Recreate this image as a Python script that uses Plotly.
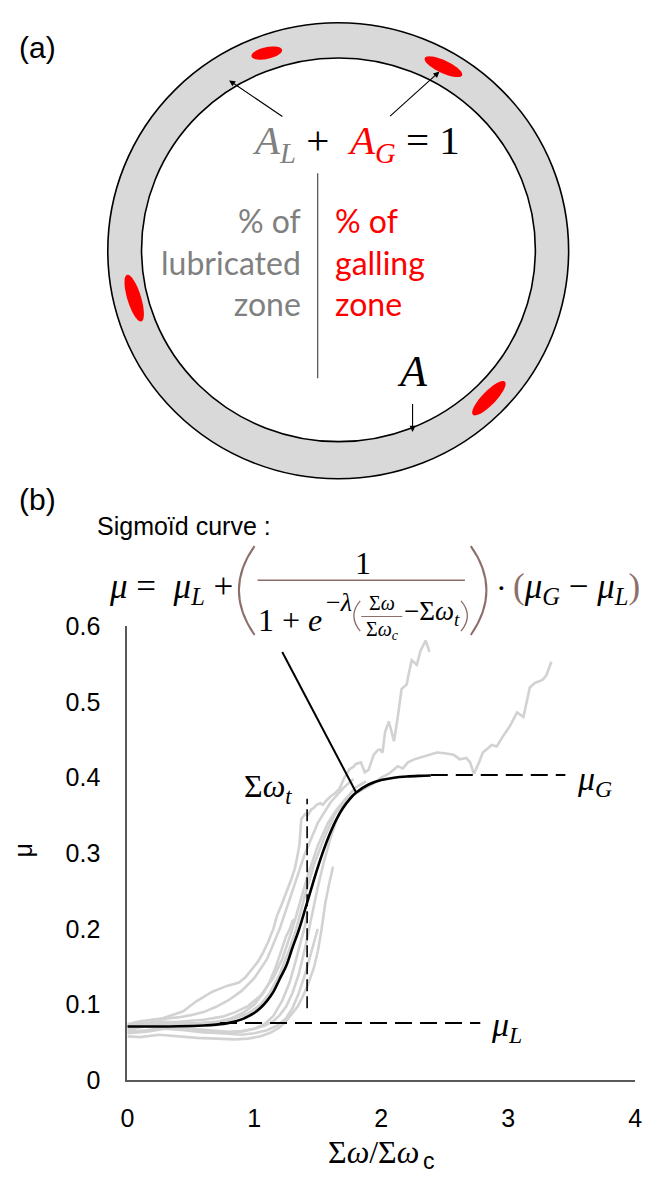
import numpy as np
import plotly.graph_objects as go

W, H = 650, 1186

# ---------------- data ----------------
x_ticks = [0, 1, 2, 3, 4]
x_tick_text = ["0", "1", "2", "3", "4"]
y_ticks = [0, 0.1, 0.2, 0.3, 0.4, 0.5, 0.6]
y_tick_text = ["0", "0.1", "0.2", "0.3", "0.4", "0.5", "0.6"]

# experimental friction curves (grey)
g1_x = [0, 0.08, 0.16, 0.28, 0.36, 0.44, 0.54, 0.62, 0.67, 0.73, 0.79, 0.84, 0.88, 0.93, 0.98, 1.03, 1.07,
        1.11, 1.15, 1.18, 1.21, 1.24, 1.27, 1.29, 1.32, 1.34, 1.355, 1.37, 1.40, 1.42, 1.45, 1.47, 1.49,
        1.52, 1.54, 1.57, 1.60, 1.64, 1.67, 1.71, 1.75, 1.78, 1.80, 1.84, 1.87, 1.90, 1.92, 1.94, 1.97,
        1.99, 2.01, 2.03, 2.06, 2.08, 2.10, 2.13, 2.16, 2.18, 2.20, 2.22, 2.24, 2.26, 2.28, 2.31, 2.33,
        2.35, 2.38]
g1_y = [0.072, 0.075, 0.079, 0.082, 0.086, 0.091, 0.104, 0.112, 0.117, 0.121, 0.125, 0.127, 0.129, 0.136,
        0.146, 0.157, 0.169, 0.183, 0.200, 0.218, 0.230, 0.243, 0.255, 0.265, 0.280, 0.295, 0.310, 0.345,
        0.352, 0.350, 0.358, 0.360, 0.364, 0.366, 0.364, 0.370, 0.375, 0.380, 0.385, 0.400, 0.411, 0.414,
        0.418, 0.420, 0.407, 0.410, 0.420, 0.430, 0.436, 0.437, 0.433, 0.460, 0.474, 0.460, 0.448, 0.480,
        0.517, 0.520, 0.523, 0.540, 0.555, 0.552, 0.549, 0.568, 0.575, 0.581, 0.566]

g2_x = [0, 0.1, 0.2, 0.35, 0.5, 0.65, 0.8, 0.9, 1.0, 1.08, 1.15, 1.2, 1.25, 1.3, 1.35, 1.4, 1.45, 1.5,
        1.55, 1.6, 1.65, 1.7, 1.76, 1.83, 1.9, 1.955, 2.0, 2.06, 2.13, 2.17, 2.21, 2.26, 2.34, 2.44, 2.5,
        2.57, 2.62, 2.67, 2.70, 2.73, 2.77, 2.80, 2.85, 2.87, 2.91, 2.96, 3.01, 3.05, 3.07, 3.12, 3.15,
        3.17, 3.21, 3.27, 3.30, 3.34]
g2_y = [0.066, 0.070, 0.072, 0.070, 0.068, 0.066, 0.064, 0.065, 0.068, 0.072, 0.078, 0.086, 0.097, 0.115,
        0.140, 0.175, 0.215, 0.255, 0.290, 0.320, 0.345, 0.365, 0.375, 0.382, 0.388, 0.394, 0.400, 0.405,
        0.415, 0.412, 0.420, 0.424, 0.428, 0.433, 0.432, 0.430, 0.424, 0.426, 0.420, 0.405, 0.420, 0.433,
        0.440, 0.443, 0.441, 0.455, 0.467, 0.480, 0.486, 0.480, 0.505, 0.519, 0.525, 0.529, 0.535, 0.553]

g3_x = [0, 0.1, 0.25, 0.4, 0.55, 0.7, 0.85, 0.95, 1.05, 1.13, 1.2, 1.24, 1.3, 1.34, 1.38, 1.42, 1.47,
        1.5, 1.53, 1.56, 1.59, 1.62]
g3_y = [0.058, 0.057, 0.060, 0.058, 0.056, 0.055, 0.054, 0.055, 0.058, 0.063, 0.070, 0.076, 0.088, 0.097,
        0.110, 0.125, 0.149, 0.170, 0.200, 0.235, 0.260, 0.282]

g4_x = [0, 0.1, 0.2, 0.3, 0.4, 0.5, 0.6, 0.7, 0.8, 0.9, 1.0, 1.1, 1.2, 1.3, 1.4, 1.5, 1.6, 1.7, 1.78]
g4_y = [0.074, 0.078, 0.080, 0.081, 0.083, 0.086, 0.090, 0.097, 0.106, 0.118, 0.135, 0.160, 0.200, 0.250,
        0.300, 0.340, 0.367, 0.386, 0.398]

g5_x = [0, 0.15, 0.3, 0.45, 0.6, 0.75, 0.85, 0.95, 1.05, 1.12, 1.2, 1.27, 1.33, 1.4, 1.47, 1.55, 1.63,
        1.72, 1.8, 1.88]
g5_y = [0.068, 0.072, 0.075, 0.074, 0.076, 0.078, 0.082, 0.088, 0.100, 0.115, 0.140, 0.170, 0.200, 0.245,
        0.285, 0.320, 0.350, 0.372, 0.387, 0.395]

g6_x = [0, 0.15, 0.3, 0.45, 0.6, 0.75, 0.9, 1.0, 1.08, 1.15, 1.22, 1.28, 1.33, 1.37, 1.4, 1.42]
g6_y = [0.062, 0.064, 0.068, 0.066, 0.063, 0.062, 0.064, 0.068, 0.074, 0.085, 0.105, 0.130, 0.160, 0.185,
        0.205, 0.222]

g7_x = [0, 0.12, 0.25, 0.4, 0.55, 0.7, 0.82, 0.92, 1.0, 1.07, 1.12, 1.17, 1.21, 1.25, 1.28, 1.3, 1.32]
g7_y = [0.070, 0.075, 0.078, 0.076, 0.075, 0.077, 0.082, 0.090, 0.100, 0.115, 0.130, 0.150, 0.170, 0.190,
        0.200, 0.210, 0.213]

g8_x = [0, 0.15, 0.3, 0.45, 0.6, 0.75, 0.9, 1.0, 1.1, 1.18, 1.25, 1.3, 1.35, 1.4, 1.45, 1.5]
g8_y = [0.064, 0.066, 0.070, 0.068, 0.065, 0.062, 0.060, 0.062, 0.066, 0.072, 0.082, 0.095, 0.115, 0.140,
        0.170, 0.200]

g9_x = [0, 0.15, 0.3, 0.45, 0.6, 0.75, 0.85, 0.95, 1.05, 1.15, 1.22, 1.3, 1.36, 1.42, 1.5, 1.58, 1.65, 1.72]
g9_y = [0.071, 0.074, 0.076, 0.078, 0.080, 0.084, 0.090, 0.098, 0.112, 0.135, 0.160, 0.200, 0.235, 0.270,
        0.310, 0.340, 0.358, 0.372]

# sigmoid fit (black)
sig_x = [0, 0.2, 0.4, 0.6, 0.7, 0.8, 0.9, 1.0, 1.05, 1.1, 1.15, 1.2, 1.25, 1.3, 1.35, 1.4, 1.45, 1.5,
         1.55, 1.6, 1.65, 1.7, 1.75, 1.8, 1.9, 2.0, 2.1, 2.2, 2.3, 2.39]
sig_y = [0.071, 0.071, 0.0713, 0.0723, 0.0735, 0.0758, 0.0804, 0.0891, 0.0958, 0.1049, 0.1167, 0.1338,
         0.1505, 0.1749, 0.1982, 0.2257, 0.2539, 0.2812, 0.306, 0.3276, 0.3456, 0.36, 0.3712, 0.3798,
         0.3908, 0.3967, 0.3998, 0.4014, 0.4022, 0.4026]

# reference lines
muL_x = [0.73, 2.78]
muL_y = [0.0755, 0.0755]
muG_x = [2.39, 3.45]
muG_y = [0.4035, 0.4035]
swt_x = [1.416, 1.416]
swt_y = [0.095, 0.372]
ptr_x = [1.22, 1.80]
ptr_y = [0.566, 0.381]

grey_curves = [(g1_x, g1_y), (g2_x, g2_y), (g3_x, g3_y), (g4_x, g4_y), (g5_x, g5_y),
               (g6_x, g6_y), (g7_x, g7_y), (g8_x, g8_y), (g9_x, g9_y)]

# ---------------- figure ----------------
fig = go.Figure()
for gx, gy in grey_curves:
    fig.add_trace(go.Scatter(x=gx, y=gy, mode="lines", line=dict(color="#d2d2d2", width=2.6),
                             hoverinfo="skip", showlegend=False))

fig.add_trace(go.Scatter(x=muL_x, y=muL_y, mode="lines",
                         line=dict(color="black", width=2, dash="17px,8px"), showlegend=False))
fig.add_trace(go.Scatter(x=muG_x, y=muG_y, mode="lines",
                         line=dict(color="black", width=2, dash="17px,8px"), showlegend=False))
fig.add_trace(go.Scatter(x=swt_x, y=swt_y, mode="lines",
                         line=dict(color="black", width=1.6, dash="12px,5px"), showlegend=False))
fig.add_trace(go.Scatter(x=sig_x, y=sig_y, mode="lines", line=dict(color="black", width=2.6, shape="spline"),
                         showlegend=False))
fig.add_trace(go.Scatter(x=ptr_x, y=ptr_y, mode="lines", line=dict(color="black", width=2),
                         showlegend=False))
# overlay pixel frame for the diagram
fig.add_trace(go.Scatter(x=[None], y=[None], xaxis="x2", yaxis="y2", showlegend=False))

SERIF = "Liberation Serif"
SANS = "Liberation Sans"
HUM = "Lato"
BROWN = "#8c6f69"
SP = "\u00a0"

tickfont = dict(family=SANS, size=25, color="black")
fig.update_layout(
    width=W, height=H, margin=dict(l=0, r=0, t=0, b=0),
    paper_bgcolor="white", plot_bgcolor="rgba(0,0,0,0)", showlegend=False,
    xaxis=dict(domain=[123 / W, 642 / W], range=[0, 4], showline=True, linecolor="#595959", linewidth=2,
               ticks="", showgrid=False, zeroline=False, tickvals=x_ticks, ticktext=x_tick_text,
               tickfont=tickfont, ticklabelstandoff=15, anchor="y"),
    yaxis=dict(domain=[1 - 1092 / H, 1 - 627 / H], range=[0, 0.6], showline=True, linecolor="#595959",
               linewidth=2, ticks="", showgrid=False, zeroline=False, tickvals=y_ticks, ticktext=y_tick_text,
               tickfont=tickfont, ticklabelstandoff=20, anchor="x"),
    xaxis2=dict(domain=[0, 1], range=[0, W], visible=False, anchor="y2"),
    yaxis2=dict(domain=[0, 1], range=[H, 0], visible=False, anchor="x2"),
)

shapes = []
annotations = []


def ellipse_path(cx, cy, a, b, ang):
    t = np.linspace(0, 2 * np.pi, 60)
    c, s = np.cos(np.radians(ang)), np.sin(np.radians(ang))
    xs = cx + a * np.cos(t) * c - b * np.sin(t) * s
    ys = cy + a * np.cos(t) * s + b * np.sin(t) * c
    return "M " + " L ".join(f"{x:.2f},{y:.2f}" for x, y in zip(xs, ys)) + " Z"


def ref(d):
    d.update(xref="x2", yref="y2")
    return d


# ring
shapes.append(ref(dict(type="circle", x0=103, x1=574, y0=9, y1=476, fillcolor="#d9d9d9",
                       line=dict(color="black", width=1.6))))
shapes.append(ref(dict(type="circle", x0=137.5, x1=540, y0=45, y1=438, fillcolor="white",
                       line=dict(color="black", width=1.6))))
# galling spots
for cx, cy, a, b, ang in [(265.5, 40, 16, 6, -12), (446, 54, 21, 6.5, 25), (130, 291, 25, 7, 73),
                          (492.5, 393.5, 23.5, 7, -46)]:
    shapes.append(ref(dict(type="path", path=ellipse_path(cx, cy, a, b, ang), fillcolor="#ff0000",
                           line=dict(width=0))))
# divider
shapes.append(ref(dict(type="line", x0=317.5, x1=317.5, y0=163, y1=373, line=dict(color="#595959", width=1.3))))

# arrows
for (hx, hy, tx, ty) in [(227, 68, 283, 106), (442, 59, 390, 106), (414.5, 428, 414.5, 398)]:
    annotations.append(dict(x=hx, y=hy, ax=tx, ay=ty, xref="x2", yref="y2", axref="x2", ayref="y2",
                            text="", showarrow=True, arrowhead=2, arrowsize=1.1, arrowwidth=1.1,
                            arrowcolor="black"))

# equation part (b)
shapes.append(ref(dict(type="path", path="M 253,545 Q 221,590 253,636", line=dict(color=BROWN, width=2))))
shapes.append(ref(dict(type="path", path="M 474,545 Q 506,590 474,636", line=dict(color=BROWN, width=2))))
shapes.append(ref(dict(type="line", x0=256, x1=468, y0=580, y1=580, line=dict(color=BROWN, width=1.6))))
shapes.append(ref(dict(type="path", path="M 361,601 Q 348,616 361,632", line=dict(color=BROWN, width=1.3))))
shapes.append(ref(dict(type="path", path="M 464,601 Q 477,616 464,632", line=dict(color=BROWN, width=1.3))))
shapes.append(ref(dict(type="line", x0=362, x1=404, y0=617, y1=617, line=dict(color=BROWN, width=1.1))))

fig.update_layout(shapes=shapes)


def txt(x, y, text, size, family=SERIF, color="black", xanchor="center", yanchor="middle", **kw):
    annotations.append(dict(x=x, y=y, xref="x2", yref="y2", text=text, showarrow=False,
                            font=dict(family=family, size=size, color=color), xanchor=xanchor,
                            yanchor=yanchor, **kw))


txt(31, 34, "(a)", 30, family=SANS)
txt(357, 132, "<span style='color:#808080'><i>A</i><sub><i>L</i></sub></span>" + SP + "+" + SP + SP
    + "<span style='color:#ff0000'><i>A</i><sub><i>G</i></sub></span>" + SP + "=" + SP + "1", 41)
txt(303, 254, "% of<br>lubricated<br>zone", 32, family=HUM, color="#808080", xanchor="right", align="right")
txt(333, 254, "% of<br>galling<br>zone", 32, family=HUM, color="#ff0000", xanchor="left", align="left")
txt(414, 366, "<i>A</i>", 44)

txt(31, 497, "(b)", 30, family=SANS)
txt(90, 524, "Sigmoïd curve :", 25, family=SANS, xanchor="left")
txt(102, 588, "<i>μ</i> =" + SP + SP + "<i>μ</i><sub><i>L</i></sub> +", 35, xanchor="left")
txt(364, 562, "1", 32)
txt(289, 621, "1 + <i>e</i>", 32)
txt(339, 603, "−<i>λ</i>", 26)
txt(383, 617, "Σ<i>ω</i>", 20, yanchor="bottom")
txt(384, 617, "Σ<i>ω</i><sub><i>c</i></sub>", 20, yanchor="top")
txt(434, 613, "−Σ<i>ω</i><sub><i>t</i></sub>", 27)
txt(505, 588, "·", 32)
txt(515, 588, f"<span style='color:{BROWN}'>(</span><i>μ</i><sub><i>G</i></sub> − "
              f"<i>μ</i><sub><i>L</i></sub><span style='color:{BROWN}'>)</span>", 35, xanchor="left")

# chart labels
txt(267, 793, "Σ<i>ω</i><sub><i>t</i></sub>", 32)
txt(600, 786, "<i>μ</i><sub><i>G</i></sub>", 34)
txt(511, 1038, "<i>μ</i><sub><i>L</i></sub>", 34)
# x-axis title: Σω/Σω with an Arial subscript "c"
txt(423, 1165, "Σ<i>ω</i>/Σ<i>ω</i>", 32, xanchor="right")
txt(423, 1175, "c", 23, family=SANS, xanchor="left")
txt(16, 857, "μ", 25, family=SANS, textangle=-90)

fig.update_layout(annotations=annotations)
fig.write_html("out.html", config={"displayModeBar": False, "staticPlot": True},
               post_script="document.body.style.margin='0';document.body.style.overflow='hidden';")
